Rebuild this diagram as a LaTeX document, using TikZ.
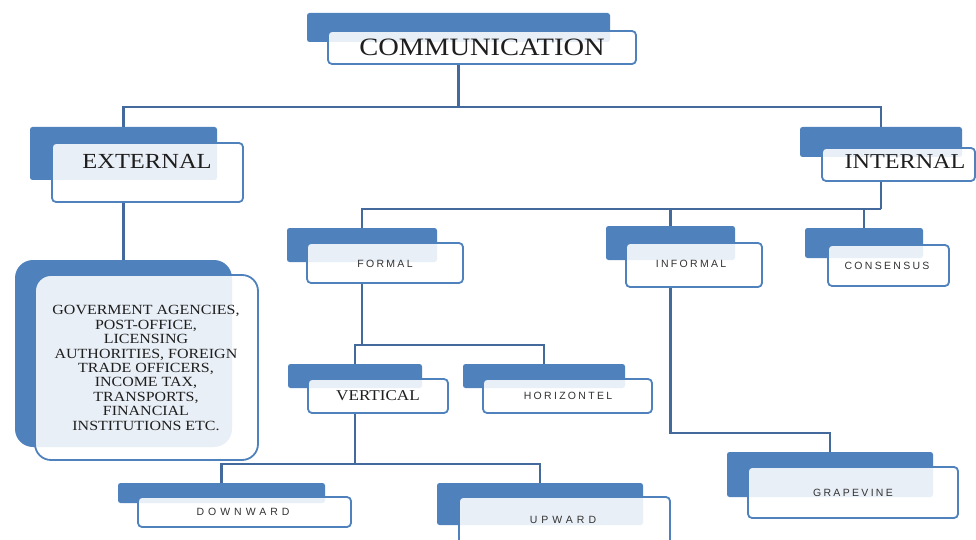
\documentclass[tikz,border=0pt]{standalone}
\usepackage{fontspec}
\setmainfont{Liberation Serif}
\newfontfamily\serifW[FakeStretch=1.14]{Liberation Serif}
\newfontfamily\sansA[LetterSpace=22]{Liberation Sans}
\newfontfamily\sansB[LetterSpace=38]{Liberation Sans}
\usetikzlibrary{backgrounds}
\definecolor{boxblue}{HTML}{4F81BD}
\definecolor{linkblue}{HTML}{44699C}
\definecolor{txt}{HTML}{1E1E1E}
\definecolor{stxt}{HTML}{333333}
\tikzset{
  backbox/.style={fill=boxblue, draw=none, rounded corners=2.5pt, inner sep=0pt, outer sep=0pt},
  frontbox/.style={fill=white, fill opacity=0.88, draw=boxblue, line width=1.8pt, rounded corners=4pt, inner sep=0pt, outer sep=0pt},
  conn/.style={draw=linkblue, line width=2.6pt},
  sertext/.style={text=txt, inner sep=0pt},
  santext/.style={text=stxt, inner sep=0pt},
}
\newcommand\mkbox[9]{%
  \node[backbox, minimum width={#4-#2}, minimum height={#5-#3}] (#1b) at ({(#2+#4)/2},{(#3+#5)/2}) {};
  \node[frontbox, minimum width={#8-#6}, minimum height={#9-#7}] (#1) at ({(#6+#8)/2},{(#7+#9)/2}) {};
}
\begin{document}
\begin{tikzpicture}[x=1pt, y=-1pt]
\useasboundingbox (0,0) rectangle (976,540);
\begin{scope}
\clip (0,0) rectangle (976,540);
% boxes
\mkbox{comm}{307}{13}{610}{42}{328}{31}{636}{64}
\mkbox{ext}{30}{127}{217}{180}{52}{143}{243}{202}
\mkbox{int}{800}{127}{962}{157}{822}{148}{975}{181}
\node[backbox, rounded corners=18pt, minimum width=217, minimum height=187] (bigb) at (123.5,353.5) {};
\node[frontbox, rounded corners=16pt, minimum width=223, minimum height=185] (big) at (146.5,367.5) {};
\mkbox{form}{287}{228}{437}{262}{307}{243}{463}{283}
\mkbox{inf}{606}{226}{735}{260}{626}{243}{762}{287}
\mkbox{con}{805}{228}{923}{258}{828}{245}{949}{286}
\mkbox{vert}{288}{364}{422}{388}{308}{379}{448}{413}
\mkbox{hor}{463}{364}{625}{388}{483}{379}{652}{413}
\mkbox{down}{118}{483}{325}{503}{138}{497}{351}{527}
\mkbox{up}{437}{483}{643}{525}{459}{497}{670}{548}
\mkbox{grape}{727}{452}{933}{497}{748}{467}{958}{518}
% texts
\node[sertext, font=\serifW\fontsize{25}{27}\selectfont] (commT) at (482,47) {COMMUNICATION};
\node[sertext, font=\serifW\fontsize{21.5}{23}\selectfont] (extT) at (147,161) {EXTERNAL};
\node[sertext, font=\serifW\fontsize{21.2}{23}\selectfont] (intT) at (905,162) {INTERNAL};
\node[sertext, font=\serifW\fontsize{15}{17}\selectfont] (vertT) at (378,396) {VERTICAL};
\node[sertext, align=center, font=\serifW\fontsize{14}{14.4}\selectfont] (bigT) at (146,368)
  {GOVERMENT AGENCIES,\\POST-OFFICE,\\LICENSING\\AUTHORITIES, FOREIGN\\TRADE OFFICERS,\\INCOME TAX,\\TRANSPORTS,\\FINANCIAL\\INSTITUTIONS ETC.};
\node[santext, font=\sansA\fontsize{10.5}{12}\selectfont] (formT) at (385,264) {FORMAL};
\node[santext, font=\sansA\fontsize{10.5}{12}\selectfont] (infT) at (691,264) {INFORMAL};
\node[santext, font=\sansA\fontsize{10.5}{12}\selectfont] (conT) at (887,266) {CONSENSUS};
\node[santext, font=\sansA\fontsize{10.5}{12}\selectfont] (horT) at (568,396) {HORIZONTEL};
\node[santext, font=\sansB\fontsize{10.5}{12}\selectfont] (downT) at (243,512) {DOWNWARD};
\node[santext, font=\sansB\fontsize{10.5}{12}\selectfont] (upT) at (563,520) {UPWARD};
\node[santext, font=\sansA\fontsize{10.5}{12}\selectfont] (grapeT) at (853,493) {GRAPEVINE};
\end{scope}
% connectors
\begin{pgfonlayer}{background}
\coordinate (bus1) at (0,107);
\coordinate (bus2) at (0,209);
\coordinate (bus3) at (0,345);
\coordinate (bus4) at (0,464);
\coordinate (bus5) at (0,433);
\draw[conn] (commb.south |- comm.south) -- (commb.south |- bus1);
\draw[conn] (extb.north) |- (intb.north |- bus1) -- (intb.north);
\draw[conn] (extb.south |- ext.south) -- (bigb.north);
\draw[conn] (intb.south |- int.south) -- (intb.south |- bus2);
\draw[conn] (formb.north) |- (intb.south |- bus2);
\draw[conn] (infb.north) -- (infb.north |- bus2);
\draw[conn] (conb.north) -- (conb.north |- bus2);
\draw[conn] (formb.south |- form.south) -- (formb.south |- bus3);
\draw[conn] (vertb.north) |- (horb.north |- bus3) -- (horb.north);
\draw[conn] (vertb.south |- vert.south) -- (vertb.south |- bus4);
\draw[conn] (downb.north) |- (upb.north |- bus4) -- (upb.north);
\draw[conn] (infb.south |- inf.south) |- (grapeb.north |- bus5) -- (grapeb.north);
\end{pgfonlayer}
\end{tikzpicture}
\end{document}
